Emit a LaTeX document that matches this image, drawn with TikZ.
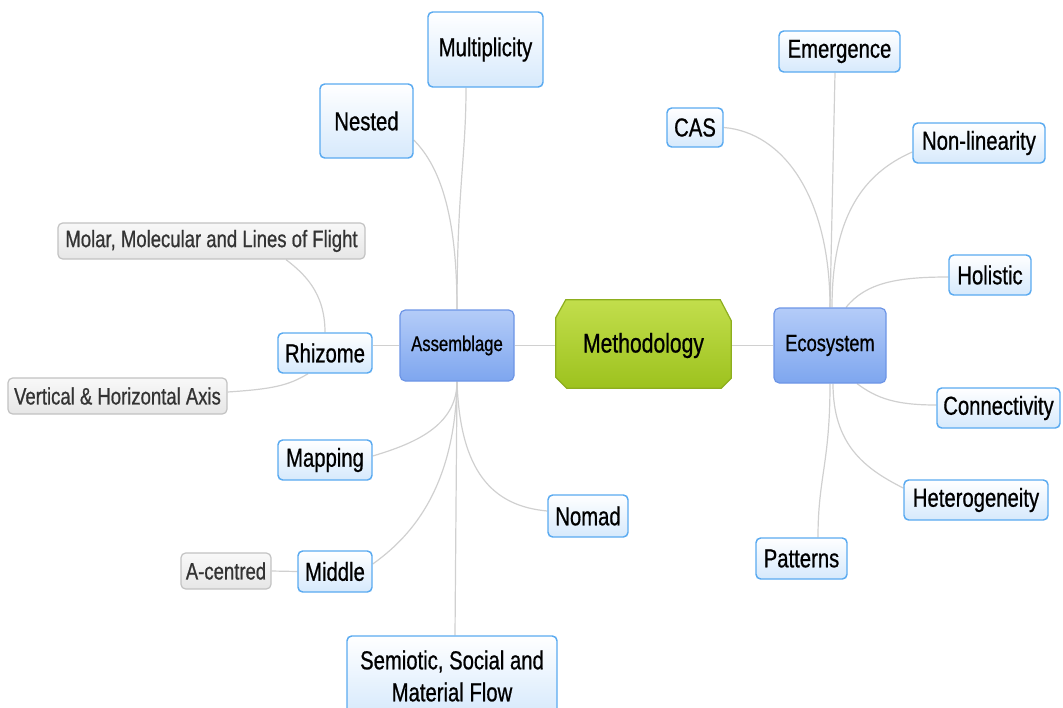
\documentclass[tikz,border=0pt]{standalone}
\usepackage{fontspec}
\setmainfont[FakeStretch=0.78, FakeBold=0.7]{Liberation Sans}
\usetikzlibrary{calc}
\pgfdeclarelayer{links}
\pgfsetlayers{links,main}

\definecolor{linkgray}{HTML}{D0D0D0}
\definecolor{leafline}{HTML}{5AAAF0}
\definecolor{leafbot}{HTML}{D6E9FC}
\definecolor{hubtop}{HTML}{B4CCF8}
\definecolor{hubbot}{HTML}{7EA6EF}
\definecolor{hubline}{HTML}{6D95E6}
\definecolor{greytop}{HTML}{F8F8F8}
\definecolor{greybot}{HTML}{E6E6E6}
\definecolor{greyline}{HTML}{C2C2C2}
\definecolor{greytext}{HTML}{333333}
\definecolor{methtop}{HTML}{C2DE4C}
\definecolor{methbot}{HTML}{9DC21E}
\definecolor{methline}{HTML}{8DAE1E}

\tikzset{
  leaf/.style={rectangle, rounded corners=3.5pt, draw=leafline, line width=1.1pt,
    top color=white, bottom color=leafbot, inner sep=0pt,
    font=\fontsize{19.5}{24}\selectfont, align=center},
  grey/.style={rectangle, rounded corners=3.5pt, draw=greyline, line width=0.9pt,
    top color=greytop, bottom color=greybot, inner sep=0pt, text=greytext,
    font=\fontsize{17.8}{22}\selectfont},
  hub/.style={rectangle, rounded corners=4pt, draw=hubline, line width=0.9pt,
    top color=hubtop, bottom color=hubbot, inner sep=0pt},
  link/.style={draw=linkgray, line width=0.9pt},
  sz/.style 2 args={minimum width=#1*0.75pt, minimum height=#2*0.75pt},
}

\begin{document}
\begin{tikzpicture}[x=0.75pt, y=-0.75pt]
\useasboundingbox (0,0) rectangle (1063,707);

% centre
\node[sz={175}{88}, inner sep=0pt, font=\fontsize{20.3}{24}\selectfont] (meth) at (643.5,345.5) {Methodology};

% hubs
\node[hub, sz={114}{71}, font=\fontsize{16}{20}\selectfont] (asm) at (457,345.5) {Assemblage};
\node[hub, sz={112}{75}, font=\fontsize{17.6}{21}\selectfont] (eco) at (830,345.5) {Ecosystem};

% assemblage branch
\node[leaf, sz={115}{75}] (mult) at (485.5,49.5) {Multiplicity};
\node[leaf, sz={93}{74}] (nested) at (366.5,121) {Nested};
\node[leaf, sz={94}{40}] (rhizome) at (325,353) {Rhizome};
\node[leaf, sz={94}{40}] (mapping) at (325,460) {Mapping};
\node[leaf, sz={74}{41}] (middle) at (335,571.5) {Middle};
\node[leaf, sz={210}{80}] (sem) at (452,676) {Semiotic, Social and\\Material Flow};
\node[leaf, sz={80}{42}] (nomad) at (588,516) {Nomad};

\node[grey, sz={307}{36}] (molar) at (211.5,241) {Molar, Molecular and Lines of Flight};
\node[grey, sz={219}{36}] (vert) at (117.5,396) {Vertical \& Horizontal Axis};
\node[grey, sz={90}{36}] (acent) at (226,571) {A-centred};

% ecosystem branch
\node[leaf, sz={56}{39}] (cas) at (695,127.5) {CAS};
\node[leaf, sz={121}{41}] (emerg) at (839.5,51.5) {Emergence};
\node[leaf, sz={132}{40}] (nonlin) at (979,143) {Non-linearity};
\node[leaf, sz={82}{40}] (holist) at (990,275) {Holistic};
\node[leaf, sz={123}{40}] (conn) at (998.5,408) {Connectivity};
\node[leaf, sz={144}{40}] (hetero) at (976,500) {Heterogeneity};
\node[leaf, sz={91}{41}] (patt) at (801.5,558.5) {Patterns};

\begin{pgfonlayer}{links}
  % centre links
  \draw[link] (asm.east) -- (meth.west |- asm.east);
  \draw[link] (meth.east |- eco.west) -- (eco.west);

  % assemblage links
  \draw[link] (asm.north) .. controls +(0,-120) and +(0,70) .. ($(mult.south)+(-19.5,0)$);
  \draw[link] (asm.north) .. controls +(0,-90) and +(28,28) .. ($(nested.east)+(0,19)$);
  \draw[link] (asm.west) -- (rhizome.east |- asm.west);
  \draw[link] (asm.south) .. controls +(0,45) and +(40,-12) .. ($(mapping.east)+(0,-4)$);
  \draw[link] (asm.south) .. controls +(-2,110) and +(35,-25) .. ($(middle.east)+(0,-7.5)$);
  \draw[link] (asm.south) -- ($(sem.north)+(3,0)$);
  \draw[link] (asm.south) .. controls +(3,90) and +(-55,-5) .. ($(nomad.west)+(0,-5)$);

  % rhizome and middle links
  \draw[link] (rhizome.north) .. controls +(0,-40) and +(18,14) .. ($(molar.south)+(74.5,0)$);
  \draw[link] ($(rhizome.south)+(-17,0)$) .. controls +(-20,12) and +(45,-3) .. ($(vert.east)+(0,-4)$);
  \draw[link] (middle.west) -- (acent.east);

  % ecosystem links
  \draw[link] (eco.north) .. controls +(0,-110) and +(60,5) .. (cas.east);
  \draw[link] (eco.north) -- ($(emerg.south)+(-4.5,0)$);
  \draw[link] ($(eco.north)+(2,0)$) .. controls +(0,-90) and +(-50,22) .. ($(nonlin.west)+(0,9)$);
  \draw[link] ($(eco.north)+(16,0)$) .. controls +(20,-25) and +(-50,0) .. ($(holist.west)+(0,2)$);
  \draw[link] ($(eco.south)+(27,0)$) .. controls +(20,15) and +(-40,0) .. ($(conn.west)+(0,-3)$);
  \draw[link] ($(eco.south)+(3,0)$) .. controls +(0,60) and +(-40,-20) .. ($(hetero.west)+(0,-12)$);
  \draw[link] (eco.south) .. controls +(0,80) and +(0,-60) .. ($(patt.north)+(16.5,0)$);

  % octagonal frame of the centre node
  \shade[top color=methtop, bottom color=methbot, draw=methline, line width=0.9pt]
    ($(meth.north west)+(0,16.5)$) -- ($(meth.north west)+(10,-1.5)$)
    -- ($(meth.north east)+(-11,-1.5)$) -- ($(meth.north east)+(0,19.5)$)
    -- ($(meth.south east)+(0,-11.5)$) -- ($(meth.south east)+(-10,-1.5)$)
    -- ($(meth.south west)+(11,-1.5)$) -- ($(meth.south west)+(0,-12.5)$) -- cycle;
\end{pgfonlayer}
\end{tikzpicture}
\end{document}
